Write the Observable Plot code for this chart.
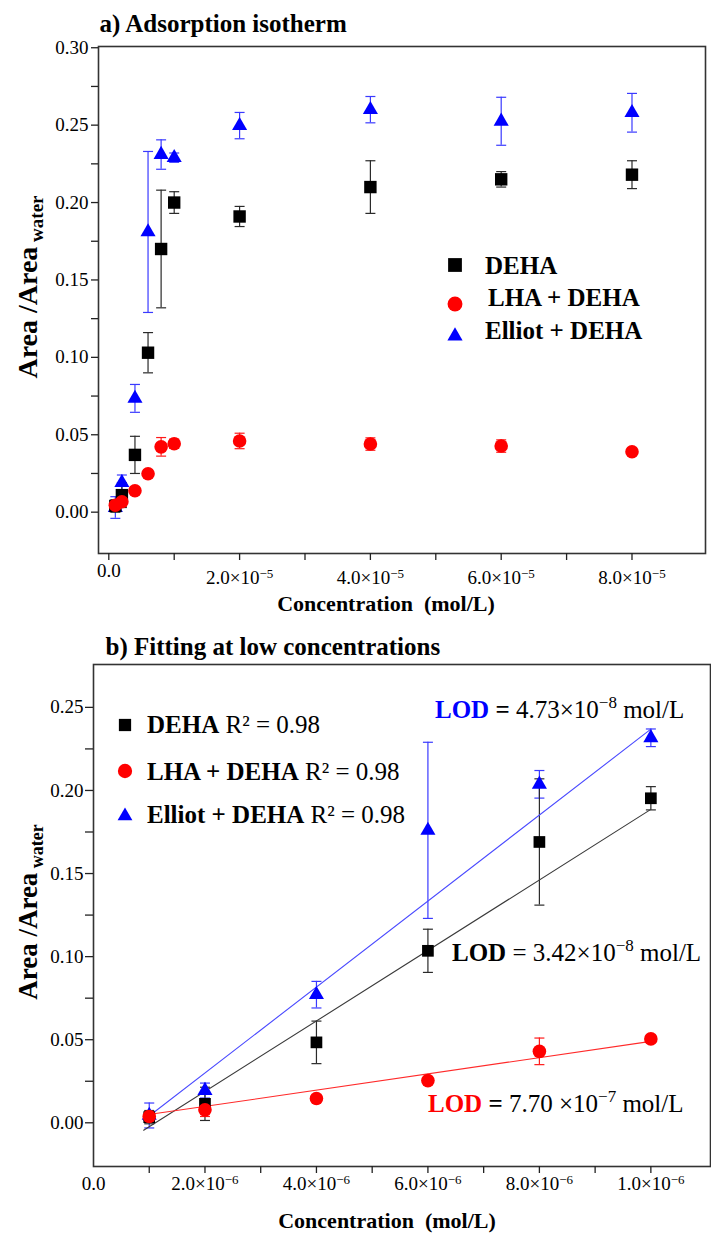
<!DOCTYPE html>
<html><head><meta charset="utf-8">
<script src="https://cdn.jsdelivr.net/npm/d3@7"></script>
<script src="https://cdn.jsdelivr.net/npm/@observablehq/plot@0.6"></script>
<style>
html,body{margin:0;padding:0;background:#fff;}
#chart svg{display:block;}
</style></head><body><div id="chart"></div>
<script>
// ---------- Panel a data: adsorption isotherm ----------
const concA = [1e-6, 2e-6, 4e-6, 6e-6, 8e-6, 1e-5, 2e-5, 4e-5, 6e-5, 8e-5];
const dehaA = [0.004, 0.011, 0.037, 0.103, 0.170, 0.200, 0.191, 0.210, 0.215, 0.218];
const dehaAErr = [0.004, 0.008, 0.012, 0.013, 0.038, 0.007, 0.0065, 0.017, 0.005, 0.009];
const lhaA = [0.0045, 0.0067, 0.0138, 0.0248, 0.0422, 0.0442, 0.046, 0.044, 0.0427, 0.039];
const lhaAErr = [0.003, 0.003, 0.002, 0.002, 0.006, 0.003, 0.005, 0.004, 0.004, 0.002];
const elliotA = [0.003, 0.019, 0.0735, 0.181, 0.231, 0.229, 0.2497, 0.260, 0.2525, 0.258];
const elliotAErr = [0.007, 0.005, 0.009, 0.052, 0.0095, 0.003, 0.0085, 0.0085, 0.0155, 0.0125];

const xTicksA = [0, 1e-5, 2e-5, 3e-5, 4e-5, 5e-5, 6e-5, 7e-5, 8e-5];
const xTickLabelsA = ["0.0", "", "2.0\u00d710\u207b\u2075", "", "4.0\u00d710\u207b\u2075", "", "6.0\u00d710\u207b\u2075", "", "8.0\u00d710\u207b\u2075"];
const yTicksA = [0, 0.025, 0.05, 0.075, 0.1, 0.125, 0.15, 0.175, 0.2, 0.225, 0.25, 0.275, 0.3];
const yTickLabelsA = ["0.00", "", "0.05", "", "0.10", "", "0.15", "", "0.20", "", "0.25", "", "0.30"];

// ---------- Panel b data: fitting at low concentrations ----------
const concB = [1e-6, 2e-6, 4e-6, 6e-6, 8e-6, 1e-5];
const dehaB = [0.0034, 0.0114, 0.0484, 0.1035, 0.169, 0.1953];
const dehaBErr = [0.004, 0.010, 0.0128, 0.013, 0.038, 0.007];
const lhaB = [0.0038, 0.0078, 0.0146, 0.0254, 0.043, 0.0505];
const lhaBErr = [0.003, 0.004, 0.002, 0.002, 0.008, 0.002];
const elliotB = [0.0044, 0.0194, 0.0771, 0.176, 0.2037, 0.2317];
const elliotBErr = [0.0075, 0.0045, 0.008, 0.053, 0.0083, 0.0053];

// fitted lines (end points)
const fitX = [0.9e-6, 1.0e-5];
const fitDEHA = [-0.0045, 0.1886];
const fitLHA = [0.0048, 0.0490];
const fitElliot = [0.0015, 0.2369];
const fitXLHA = [0.96e-6, 1.0e-5];

const xTicksB = [0, 1e-6, 2e-6, 3e-6, 4e-6, 5e-6, 6e-6, 7e-6, 8e-6, 9e-6, 1e-5];
const xTickLabelsB = ["0.0", "", "2.0\u00d710\u207b\u2076", "", "4.0\u00d710\u207b\u2076", "", "6.0\u00d710\u207b\u2076", "", "8.0\u00d710\u207b\u2076", "", "1.0\u00d710\u207b\u2076"];
const yTicksB = [0, 0.025, 0.05, 0.075, 0.1, 0.125, 0.15, 0.175, 0.2, 0.225, 0.25];
const yTickLabelsB = ["0.00", "", "0.05", "", "0.10", "", "0.15", "", "0.20", "", "0.25"];

const seriesNames = ["DEHA", "LHA + DEHA", "Elliot + DEHA"];
const seriesColors = ["#000000", "#ff0000", "#0000ff"];
const errColors = ["#2a2a2a", "#ff1a1a", "#3a3aff"];
const fitColors = ["#3a3a3a", "#ff2a2a", "#4a4aff"];
const seriesSymbols = ["square", "circle", "triangle"];

// ---------- helpers ----------
const FONT = "'Liberation Serif','Times New Roman',serif";
const cap = {draw(ctx) { ctx.moveTo(-5, 0); ctx.lineTo(5, 0); }};
const rowsOf = (conc, vals, errs) => conc.map((c, i) => ({c, v: vals[i], e: errs[i]}));
const labelOf = (ticks, labels) => d => labels[ticks.indexOf(d)] ?? "";
const SUP = {"\u207b": "\u2212", "\u2070": "0", "\u00b9": "1", "\u00b2": "2", "\u00b3": "3", "\u2074": "4", "\u2075": "5", "\u2076": "6", "\u2077": "7", "\u2078": "8", "\u2079": "9"};

function errorMarks(rows, color) {
  return [
    Plot.ruleX(rows, {x: "c", y1: d => d.v - d.e, y2: d => d.v + d.e, stroke: color, strokeWidth: 1.2}),
    Plot.dot(rows, {x: "c", y: d => d.v + d.e, symbol: cap, stroke: color, strokeWidth: 1.2, fill: "none"}),
    Plot.dot(rows, {x: "c", y: d => d.v - d.e, symbol: cap, stroke: color, strokeWidth: 1.2, fill: "none"})
  ];
}
function pointMarks(rows, k, rs) {
  return Plot.dot(rows, {x: "c", y: "v", symbol: seriesSymbols[k], fill: seriesColors[k], r: rs[k], stroke: "none"});
}
function yLabel(svg, x, y, mainSize, subSize) {
  const t = svg.append("text").attr("transform", `translate(${x},${y}) rotate(-90)`)
    .attr("text-anchor", "middle").attr("font-family", FONT).attr("font-weight", "bold").attr("fill", "#000");
  t.append("tspan").attr("font-size", mainSize).text("Area /Area");
  t.append("tspan").attr("font-size", subSize).attr("dy", 6).text("\u00a0water");
}
function rich(svg, x, y, parts, size) {
  const t = svg.append("text").attr("x", x).attr("y", y).attr("text-anchor", "start")
    .attr("font-family", FONT).attr("font-size", size).attr("fill", "#000");
  for (const p of parts) {
    const s = t.append("tspan").text(p.t);
    if (p.bold) s.attr("font-weight", "bold");
    if (p.fill) s.attr("fill", p.fill);
    if (p.size) s.attr("font-size", p.size);
    if (p.dy) s.attr("dy", p.dy);
  }
}
function legendSymbol(svg, k, x, y, area) {
  const sym = [d3.symbolSquare, d3.symbolCircle, d3.symbolTriangle][k];
  svg.append("path").attr("transform", `translate(${x},${y})`).attr("d", d3.symbol(sym, area)()).attr("fill", seriesColors[k]);
}
// turn unicode exponent of tick labels into a real superscript
function superscriptTicks(svg) {
  svg.selectAll('g[aria-label="x-axis tick label"] text').each(function() {
    const s = this.textContent;
    const m = s.match(/^(.*\u00d710)([\u207b\u2070\u00b9\u00b2\u00b3\u2074-\u2079]+)$/);
    if (!m) return;
    const sup = [...m[2]].map(ch => SUP[ch]).join("");
    const el = d3.select(this);
    el.text(null);
    el.append("tspan").text(m[1]);
    el.append("tspan").attr("font-size", 13).attr("dy", "-0.5em").text(sup);
  });
}

const axisStyle = {stroke: "#222", strokeWidth: 1.3, fontSize: 19, label: null};

// ---------- Panel a ----------
const rowsA = [rowsOf(concA, dehaA, dehaAErr), rowsOf(concA, lhaA, lhaAErr), rowsOf(concA, elliotA, elliotAErr)];
const rA = [7, 6.8, 5.6];
const plotA = Plot.plot({
  width: 711, height: 620,
  marginLeft: 98, marginRight: 6, marginTop: 46, marginBottom: 67,
  x: {domain: [-0.1575e-5, 9.124e-5]},
  y: {domain: [-0.0267, 0.3008]},
  style: {fontFamily: FONT, fontSize: "19px", color: "#000", background: "#fff"},
  marks: [
    Plot.frame({stroke: "#333", strokeWidth: 1.6}),
    Plot.axisY({ticks: yTicksA, tickFormat: labelOf(yTicksA, yTickLabelsA), tickSize: 7, tickPadding: 3, ...axisStyle}),
    Plot.axisX({ticks: xTicksA.slice(0, 1), tickFormat: labelOf(xTicksA, xTickLabelsA), tickSize: 7, tickPadding: 3, ...axisStyle}),
    Plot.axisX({ticks: xTicksA.slice(1), tickFormat: labelOf(xTicksA, xTickLabelsA), tickSize: 7, tickPadding: 10, ...axisStyle}),
    ...errorMarks(rowsA[2], errColors[2]),
    ...errorMarks(rowsA[0], errColors[0]),
    ...errorMarks(rowsA[1], errColors[1]),
    pointMarks(rowsA[2], 2, rA),
    pointMarks(rowsA[0], 0, rA),
    pointMarks(rowsA[1], 1, rA),
    Plot.text(["a) Adsorption isotherm"], {text: d => d, frameAnchor: "top-left", dx: 1, dy: -14.5, textAnchor: "start", lineAnchor: "bottom", fontSize: 25, fontWeight: "bold", fill: "#000"}),
    Plot.text(["Concentration\u00a0 (mol/L)"], {text: d => d, frameAnchor: "bottom", dx: -16, dy: 57, lineAnchor: "bottom", fontSize: 22, fontWeight: "bold", fill: "#000"})
  ]
});
const svgA = d3.select(plotA);
superscriptTicks(svgA);
yLabel(svgA, 37, 287, 28, 19);
legendSymbol(svgA, 0, 455, 265, 190);
legendSymbol(svgA, 1, 455, 304, 175);
legendSymbol(svgA, 2, 455, 336, 100);
rich(svgA, 485, 274, [{t: seriesNames[0], bold: true}], 25);
rich(svgA, 488, 306, [{t: seriesNames[1], bold: true}], 25);
rich(svgA, 485, 339, [{t: seriesNames[2], bold: true}], 25);

// ---------- Panel b ----------
const rowsB = [rowsOf(concB, dehaB, dehaBErr), rowsOf(concB, lhaB, lhaBErr), rowsOf(concB, elliotB, elliotBErr)];
const rB = [6.6, 6.8, 5.6];
const fitRows = [
  fitX.map((x, i) => ({x, y: fitDEHA[i]})),
  fitXLHA.map((x, i) => ({x, y: fitLHA[i]})),
  fitX.map((x, i) => ({x, y: fitElliot[i]}))
];
const plotB = Plot.plot({
  width: 711, height: 613,
  marginLeft: 93, marginRight: 1, marginTop: 44, marginBottom: 67,
  x: {domain: [0, 11.07e-6]},
  y: {domain: [-0.0263, 0.2758]},
  style: {fontFamily: FONT, fontSize: "19px", color: "#000", background: "#fff"},
  marks: [
    Plot.frame({stroke: "#333", strokeWidth: 1.6}),
    Plot.axisY({ticks: yTicksB, tickFormat: labelOf(yTicksB, yTickLabelsB), tickSize: 8, tickPadding: 2, ...axisStyle}),
    Plot.axisX({ticks: xTicksB.slice(0, 1), tickFormat: labelOf(xTicksB, xTickLabelsB), tickSize: 0, tickPadding: 10, ...axisStyle}),
    Plot.axisX({ticks: xTicksB.slice(1), tickFormat: labelOf(xTicksB, xTickLabelsB), tickSize: 7, tickPadding: 3, ...axisStyle}),
    ...errorMarks(rowsB[2], errColors[2]),
    ...errorMarks(rowsB[0], errColors[0]),
    ...errorMarks(rowsB[1], errColors[1]),
    Plot.line(fitRows[2], {x: "x", y: "y", stroke: fitColors[2], strokeWidth: 1.1}),
    Plot.line(fitRows[0], {x: "x", y: "y", stroke: fitColors[0], strokeWidth: 1.1}),
    Plot.line(fitRows[1], {x: "x", y: "y", stroke: fitColors[1], strokeWidth: 1.1}),
    pointMarks(rowsB[2], 2, rB),
    pointMarks(rowsB[0], 0, rB),
    pointMarks(rowsB[1], 1, rB),
    Plot.text(["b) Fitting at low concentrations"], {text: d => d, frameAnchor: "top-left", dx: 12, dy: -10, textAnchor: "start", lineAnchor: "bottom", fontSize: 25, fontWeight: "bold", fill: "#000"}),
    Plot.text(["Concentration\u00a0 (mol/L)"], {text: d => d, frameAnchor: "bottom", dx: -15, dy: 61, lineAnchor: "bottom", fontSize: 22, fontWeight: "bold", fill: "#000"})
  ]
});
const svgB = d3.select(plotB);
superscriptTicks(svgB);
yLabel(svgB, 37, 292, 27, 18);
legendSymbol(svgB, 0, 125, 105, 150);
legendSymbol(svgB, 1, 125, 151, 160);
legendSymbol(svgB, 2, 125, 196, 95);
rich(svgB, 147, 113, [{t: "DEHA", bold: true}, {t: " R\u00b2 = 0.98"}], 25);
rich(svgB, 147, 160, [{t: "LHA + DEHA", bold: true}, {t: " R\u00b2 = 0.98"}], 25);
rich(svgB, 147, 203, [{t: "Elliot + DEHA", bold: true}, {t: " R\u00b2 = 0.98"}], 25);
rich(svgB, 435, 98, [{t: "LOD", bold: true, fill: "#0000ff"}, {t: " = ", bold: true}, {t: "4.73\u00d710"}, {t: "\u22128", size: 17, dy: -10}, {t: " mol/L", dy: 10}], 25);
rich(svgB, 452, 341, [{t: "LOD", bold: true}, {t: " = "}, {t: "3.42\u00d710"}, {t: "\u22128", size: 17, dy: -10}, {t: " mol/L", dy: 10}], 25);
rich(svgB, 428, 492, [{t: "LOD", bold: true, fill: "#ff0000"}, {t: " = ", bold: true}, {t: "7.70 \u00d710"}, {t: "\u22127", size: 17, dy: -10}, {t: " mol/L", dy: 10}], 25);

document.getElementById("chart").append(plotA, plotB);
</script></body></html>
